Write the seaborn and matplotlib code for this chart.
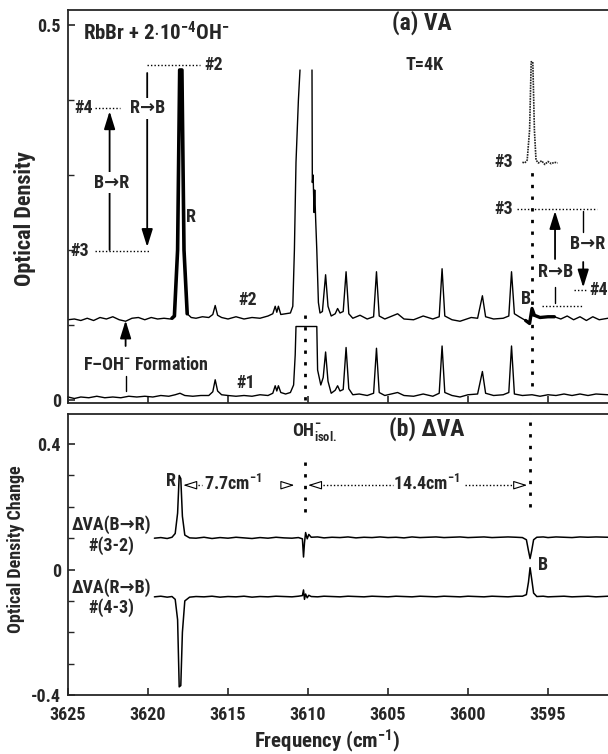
import numpy as np
import pandas as pd
import matplotlib
matplotlib.use("Agg")
import matplotlib.pyplot as plt
import seaborn as sns

# ---- panel (a): VA spectra ----
spec1_freq = [3625.0, 3624.6, 3624.2, 3623.7, 3623.2, 3622.7, 3622.2, 3621.7, 3621.2, 3620.7,
              3620.2, 3619.7, 3619.2, 3618.7, 3618.3, 3618.0, 3617.7, 3617.2, 3616.7, 3616.2,
              3615.95, 3615.8, 3615.65, 3615.4, 3615.0, 3614.5, 3614.0, 3613.5, 3613.0, 3612.5,
              3612.2, 3612.05, 3611.95, 3611.85, 3611.7, 3611.4, 3611.1, 3610.9, 3610.8, 3610.75,
              3609.45, 3609.4, 3609.2, 3609.05, 3608.9, 3608.75, 3608.55, 3608.3, 3608.15, 3608.0,
              3607.8, 3607.62, 3607.45, 3607.2, 3606.8, 3606.3, 3605.9, 3605.72, 3605.55, 3605.2,
              3604.4, 3604.0, 3603.4, 3602.8, 3602.2, 3601.8, 3601.62, 3601.45, 3601.0, 3600.5,
              3600.0, 3599.4, 3599.1, 3598.9, 3598.4, 3597.8, 3597.45, 3597.28, 3597.1, 3596.6,
              3596.0, 3595.5, 3595.0, 3594.5, 3594.0, 3593.5, 3593.0, 3592.5, 3592.0, 3591.25]
spec1_od = [0.004, 0.002, 0.004, 0.003, 0.005, 0.003, 0.004, 0.003, 0.005, 0.004,
            0.005, 0.004, 0.006, 0.005, 0.007, 0.009, 0.006, 0.005, 0.006, 0.006,
            0.011, 0.027, 0.012, 0.007, 0.006, 0.005, 0.006, 0.005, 0.007, 0.006,
            0.009, 0.019, 0.012, 0.019, 0.010, 0.008, 0.010, 0.020, 0.060, 0.098,
            0.098, 0.040, 0.020, 0.030, 0.064, 0.025, 0.009, 0.013, 0.019, 0.012,
            0.014, 0.070, 0.015, 0.007, 0.008, 0.006, 0.009, 0.069, 0.010, 0.006,
            0.010, 0.006, 0.005, 0.008, 0.005, 0.009, 0.072, 0.010, 0.006, 0.004,
            0.007, 0.008, 0.038, 0.009, 0.006, 0.007, 0.010, 0.072, 0.008, 0.006,
            0.007, 0.005, 0.007, 0.006, 0.008, 0.006, 0.008, 0.006, 0.008, 0.007]

# spectrum #2, left of the saturated OH- band
spec2a_freq = [3625.0, 3624.6, 3624.2, 3623.8, 3623.4, 3623.0, 3622.6, 3622.2, 3621.8, 3621.4,
               3621.0, 3620.6, 3620.2, 3619.8, 3619.4, 3619.0, 3618.6, 3618.35, 3618.15, 3618.02,
               3617.88, 3617.75, 3617.55, 3617.3, 3617.0, 3616.6, 3616.2, 3615.95, 3615.8, 3615.65,
               3615.4, 3615.0, 3614.5, 3614.0, 3613.5, 3613.0, 3612.5, 3612.2, 3612.05, 3611.95,
               3611.85, 3611.7, 3611.4, 3611.1, 3610.95, 3610.85, 3610.75, 3610.6, 3610.5]
spec2a_od = [0.107, 0.108, 0.106, 0.109, 0.106, 0.110, 0.108, 0.111, 0.107, 0.105,
             0.109, 0.110, 0.107, 0.110, 0.108, 0.109, 0.108, 0.112, 0.200, 0.440,
             0.440, 0.200, 0.115, 0.110, 0.109, 0.111, 0.110, 0.114, 0.126, 0.113,
             0.110, 0.108, 0.111, 0.108, 0.110, 0.109, 0.112, 0.115, 0.125, 0.117,
             0.125, 0.114, 0.115, 0.116, 0.125, 0.200, 0.317, 0.400, 0.440]
# spectrum #2, right of the saturated OH- band
spec2b_freq = [3609.75, 3609.73, 3609.68, 3609.62, 3609.58, 3609.52, 3609.45, 3609.35, 3609.25, 3609.1,
               3608.9, 3608.75, 3608.55, 3608.3, 3608.15, 3608.0, 3607.8, 3607.62, 3607.45, 3607.2,
               3606.75, 3606.3, 3605.9, 3605.72, 3605.55, 3605.2, 3604.4, 3604.0, 3603.4, 3602.8,
               3602.2, 3601.8, 3601.62, 3601.45, 3601.0, 3600.5, 3599.8, 3599.4, 3599.1, 3598.9,
               3598.4, 3597.8, 3597.45, 3597.28, 3597.1, 3596.8, 3596.4, 3596.15, 3596.0, 3595.85,
               3595.5, 3595.0, 3594.6, 3594.2, 3593.8, 3593.4, 3593.0, 3592.6, 3592.2, 3591.8,
               3591.25]
spec2b_od = [0.440, 0.290, 0.300, 0.250, 0.280, 0.240, 0.200, 0.130, 0.116, 0.118,
             0.167, 0.125, 0.112, 0.115, 0.122, 0.116, 0.118, 0.171, 0.115, 0.109,
             0.113, 0.108, 0.111, 0.171, 0.112, 0.108, 0.115, 0.108, 0.107, 0.112,
             0.108, 0.111, 0.175, 0.112, 0.107, 0.105, 0.110, 0.109, 0.139, 0.111,
             0.108, 0.109, 0.112, 0.171, 0.115, 0.111, 0.106, 0.104, 0.122, 0.112,
             0.111, 0.111, 0.111, 0.108, 0.112, 0.107, 0.111, 0.106, 0.111, 0.107,
             0.109]
# heavier overlapping traces near R and B
r_band_freq = [3618.5, 3618.35, 3618.15, 3618.02, 3617.88, 3617.75, 3617.55]
r_band_od = [0.109, 0.112, 0.200, 0.440, 0.440, 0.200, 0.115]
b_band_freq = [3596.4, 3596.15, 3596.0, 3595.85, 3595.5, 3595.0, 3594.6]
b_band_od = [0.106, 0.102, 0.122, 0.113, 0.110, 0.111, 0.111]
# spectrum #3 inset near B
spec3_freq = [3596.6, 3596.45, 3596.3, 3596.15, 3596.05, 3595.95, 3595.85, 3595.75, 3595.6, 3595.4,
              3595.2, 3595.0, 3594.8, 3594.6, 3594.4]
spec3_od = [0.317, 0.316, 0.320, 0.360, 0.451, 0.451, 0.360, 0.320, 0.316, 0.319,
            0.314, 0.318, 0.315, 0.317, 0.316]

# ---- panel (b): difference spectra ----
dva_freq = [3619.6, 3619.2, 3618.8, 3618.5, 3618.3, 3618.15, 3618.05, 3617.95, 3617.85, 3617.7,
            3617.4, 3617.0, 3616.5, 3616.0, 3615.5, 3615.0, 3614.5, 3614.0, 3613.5, 3613.0,
            3612.5, 3612.0, 3611.5, 3611.0, 3610.6, 3610.35, 3610.28, 3610.22, 3610.15, 3610.05,
            3609.95, 3609.8, 3609.4, 3609.0, 3608.5, 3608.0, 3607.5, 3607.0, 3606.5, 3606.0,
            3605.5, 3605.0, 3604.5, 3604.0, 3603.5, 3603.0, 3602.5, 3602.0, 3601.5, 3601.0,
            3600.5, 3600.0, 3599.5, 3599.0, 3598.5, 3598.0, 3597.5, 3597.0, 3596.6, 3596.35,
            3596.22, 3596.12, 3596.02, 3595.9, 3595.7, 3595.3, 3595.0, 3594.5, 3594.0, 3593.5,
            3593.0, 3592.5, 3592.0, 3591.25]
dva_b2r = [0.100, 0.102, 0.099, 0.103, 0.115, 0.180, 0.300, 0.290, 0.170, 0.110,
           0.101, 0.100, 0.103, 0.099, 0.102, 0.100, 0.103, 0.101, 0.099, 0.102,
           0.100, 0.103, 0.101, 0.100, 0.102, 0.098, 0.040, 0.085, 0.118, 0.098,
           0.112, 0.103, 0.104, 0.101, 0.103, 0.102, 0.104, 0.101, 0.103, 0.102,
           0.104, 0.102, 0.103, 0.101, 0.104, 0.102, 0.103, 0.104, 0.102, 0.103,
           0.104, 0.102, 0.103, 0.104, 0.102, 0.103, 0.104, 0.103, 0.102, 0.095,
           0.060, 0.035, 0.060, 0.095, 0.103, 0.104, 0.102, 0.104, 0.103, 0.102,
           0.104, 0.103, 0.104, 0.103]
dva_r2b = [-0.087, -0.085, -0.088, -0.086, -0.095, -0.160, -0.374, -0.370, -0.200, -0.100,
           -0.088, -0.086, -0.087, -0.085, -0.088, -0.086, -0.087, -0.085, -0.088, -0.086,
           -0.087, -0.085, -0.086, -0.087, -0.085, -0.083, -0.065, -0.095, -0.078, -0.090,
           -0.082, -0.086, -0.087, -0.085, -0.086, -0.087, -0.085, -0.086, -0.087, -0.085,
           -0.086, -0.087, -0.085, -0.086, -0.087, -0.085, -0.086, -0.087, -0.085, -0.086,
           -0.087, -0.085, -0.086, -0.087, -0.085, -0.086, -0.087, -0.085, -0.085, -0.080,
           -0.040, 0.006, -0.030, -0.075, -0.086, -0.085, -0.087, -0.086, -0.085, -0.087,
           -0.086, -0.085, -0.087, -0.085]

x_ticks = [3625, 3620, 3615, 3610, 3605, 3600, 3595]
x_lim = (3625, 3591.25)

sns.set_style("ticks")
main_font = "Roboto Condensed"
plt.rcParams["font.family"] = [main_font, "DejaVu Sans"]
plt.rcParams["font.weight"] = "bold"
plt.rcParams["mathtext.fontset"] = "custom"
plt.rcParams["mathtext.rm"] = main_font + ":bold"
plt.rcParams["mathtext.it"] = main_font + ":bold"
plt.rcParams["mathtext.bf"] = main_font + ":bold"

fig = plt.figure(figsize=(6.08, 7.54), dpi=100)
ax1 = fig.add_axes([68 / 608, 1 - 403 / 754, 540 / 608, 393 / 754])
ax2 = fig.add_axes([68 / 608, 1 - 695 / 754, 540 / 608, 281 / 754])


def trace(ax, f, od, lw=1.0, ls="-", color="black"):
    df = pd.DataFrame({"freq": f, "od": od})
    sns.lineplot(data=df, x="freq", y="od", ax=ax, color=color, lw=lw, ls=ls,
                 sort=False, estimator=None)


def arrow(ax, x, y0, y1):
    ax.annotate("", xy=(x, y1), xytext=(x, y0),
                arrowprops=dict(arrowstyle="-|>,head_length=0.9,head_width=0.28",
                                color="black", lw=1.3, mutation_scale=12,
                                shrinkA=0, shrinkB=0))


def open_head(ax, tip, y, direction):
    # direction -1 points left (higher frequency), +1 points right
    ax.annotate("", xy=(tip, y), xytext=(tip + 0.5 * direction, y),
                arrowprops=dict(arrowstyle="-|>,head_length=0.7,head_width=0.22",
                                fc="white", ec="black", lw=0.8, mutation_scale=12,
                                shrinkA=0, shrinkB=0))


dot = dict(color="black", ls=(0, (1, 1.5)), lw=1.0)
vdot = dict(color="black", ls=(0, (1.2, 3)), lw=2.0)
fs = 13
arw = "\u2192"

# ---- panel (a) ----
trace(ax1, spec1_freq, spec1_od)
trace(ax1, spec2a_freq, spec2a_od)
trace(ax1, spec2b_freq, spec2b_od)
trace(ax1, r_band_freq, r_band_od, lw=2.6)
trace(ax1, b_band_freq, b_band_od, lw=2.4)
trace(ax1, spec3_freq, spec3_od, lw=1.2, ls=(0, (1, 0.6)), color="#222222")

ax1.plot([3610.2, 3610.2], [0.0, 0.113], **vdot)
ax1.plot([3596.0, 3596.0], [0.019, 0.312], **vdot)

ax1.text(3624.05, 0.489, "RbBr + 2$\\cdot$10$^{-4}$OH$^{-}$", fontsize=fs + 2, va="center")
ax1.text(3602.9, 0.503, "(a) VA", fontsize=17, ha="center", va="center")
ax1.text(3602.7, 0.447, "T=4K", fontsize=fs, ha="center", va="center")

ax1.plot([3620.05, 3616.75], [0.446, 0.446], **dot)
ax1.text(3616.45, 0.446, "#2", fontsize=fs, va="center")
ax1.text(3624.0, 0.389, "#4", fontsize=fs, ha="center", va="center")
ax1.plot([3623.3, 3621.75], [0.389, 0.389], **dot)
arrow(ax1, 3620.05, 0.436, 0.204)
ax1.text(3620.0, 0.389, "R" + arw + "B", fontsize=fs, ha="center", va="center",
         bbox=dict(fc="white", ec="none", pad=1))
ax1.text(3624.25, 0.198, "#3", fontsize=fs, ha="center", va="center")
ax1.plot([3623.3, 3619.9], [0.198, 0.198], **dot)
arrow(ax1, 3622.4, 0.200, 0.385)
ax1.text(3622.3, 0.29, "B" + arw + "R", fontsize=fs, ha="center", va="center",
         bbox=dict(fc="white", ec="none", pad=1))
ax1.text(3617.65, 0.244, "R", fontsize=fs, va="center")
ax1.text(3613.8, 0.133, "#2", fontsize=fs, ha="center", va="center")
ax1.text(3613.9, 0.023, "#1", fontsize=fs, ha="center", va="center")
arrow(ax1, 3621.4, 0.072, 0.106)
ax1.plot([3621.4, 3621.4], [0.012, 0.032], color="black", lw=1.0)
ax1.text(3624.05, 0.046, "F\u2013OH$^{-}$ Formation", fontsize=fs, va="center")

ax1.text(3597.8, 0.317, "#3", fontsize=fs, ha="center", va="center")
ax1.text(3597.8, 0.255, "#3", fontsize=fs, ha="center", va="center")
ax1.plot([3596.94, 3591.94], [0.255, 0.255], **dot)
arrow(ax1, 3594.56, 0.188, 0.252)
ax1.text(3594.5, 0.171, "R" + arw + "B", fontsize=fs, ha="center", va="center")
ax1.plot([3594.56, 3594.56], [0.129, 0.151], color="black", lw=1.0)
ax1.plot([3595.4, 3592.9], [0.125, 0.125], **dot)
ax1.text(3592.5, 0.208, "B" + arw + "R", fontsize=fs, ha="center", va="center")
ax1.plot([3592.8, 3592.8], [0.224, 0.252], color="black", lw=1.0)
arrow(ax1, 3592.8, 0.184, 0.150)
ax1.plot([3593.4, 3592.6], [0.147, 0.147], **dot)
ax1.text(3591.85, 0.147, "#4", fontsize=fs, ha="center", va="center")
ax1.text(3596.4, 0.135, "B", fontsize=fs, ha="center", va="center")

# ---- panel (b) ----
trace(ax2, dva_freq, dva_b2r, lw=1.1)
trace(ax2, dva_freq, dva_r2b, lw=1.1)

ax2.plot([3610.2, 3610.2], [0.182, 0.368], **vdot)
ax2.plot([3596.1, 3596.1], [0.198, 0.5], **vdot)
ax2.text(3609.6, 0.44, "OH$^{-}_{isol.}$", fontsize=fs, ha="center", va="center")
ax2.text(3602.6, 0.448, "(b) \u0394VA", fontsize=17, ha="center", va="center")
ax2.text(3618.56, 0.282, "R", fontsize=fs, ha="center", va="center")
ax2.text(3595.3, 0.013, "B", fontsize=fs, ha="center", va="center")
ax2.text(3622.3, 0.11, "\u0394VA(B" + arw + "R)\n#(3-2)", fontsize=fs, ha="center",
         va="center", linespacing=1.1)
ax2.text(3622.3, -0.09, "\u0394VA(R" + arw + "B)\n#(4-3)", fontsize=fs, ha="center",
         va="center", linespacing=1.1)

y_arr = 0.269
open_head(ax2, 3617.8, y_arr, -1)
ax2.plot([3617.3, 3616.6], [y_arr, y_arr], **dot)
ax2.text(3614.7, y_arr + 0.005, "7.7cm$^{-1}$", fontsize=fs, ha="center", va="center")
open_head(ax2, 3610.85, y_arr, 1)
open_head(ax2, 3610.0, y_arr, -1)
ax2.plot([3609.5, 3604.7], [y_arr, y_arr], **dot)
ax2.text(3602.6, y_arr + 0.005, "14.4cm$^{-1}$", fontsize=fs, ha="center", va="center")
ax2.plot([3600.2, 3596.8], [y_arr, y_arr], **dot)
open_head(ax2, 3596.3, y_arr, 1)

# ---- axes styling ----
for ax in (ax1, ax2):
    ax.set_xlim(*x_lim)
    ax.set_xticks(x_ticks)
    ax.tick_params(direction="in", length=5, width=1.2, labelsize=13, pad=5)
    ax.tick_params(which="minor", direction="in", length=4, width=1.0)
    ax.spines["right"].set_visible(False)
    for s in ("left", "bottom", "top"):
        ax.spines[s].set_linewidth(1.3)
    ax.set_xlabel("")

ax1.set_ylim(-0.004, 0.52)
ax1.set_yticks([0, 0.5])
ax1.set_yticklabels(["0", "0.5"])
ax1.set_yticks([0.1, 0.2, 0.3, 0.4], minor=True)
ax1.set_xticklabels([])
ax1.set_ylabel("Optical Density", fontsize=16, fontweight="bold")
ax1.yaxis.set_label_coords(-0.06, 0.47)

ax2.set_ylim(-0.4, 0.496)
ax2.set_yticks([-0.4, 0, 0.4])
ax2.set_yticklabels(["-0.4", "0", "0.4"])
ax2.set_yticks([-0.3, -0.2, -0.1, 0.1, 0.2, 0.3], minor=True)
ax2.tick_params(axis="x", pad=8)
ax2.set_ylabel("Optical Density Change", fontsize=13, fontweight="bold")
ax2.yaxis.set_label_coords(-0.08, 0.52)
ax2.set_xlabel("Frequency (cm$^{-1}$)", fontsize=15, fontweight="bold")
ax2.xaxis.set_label_coords(0.48, -0.115)

fig.savefig("out.png", dpi=100)
